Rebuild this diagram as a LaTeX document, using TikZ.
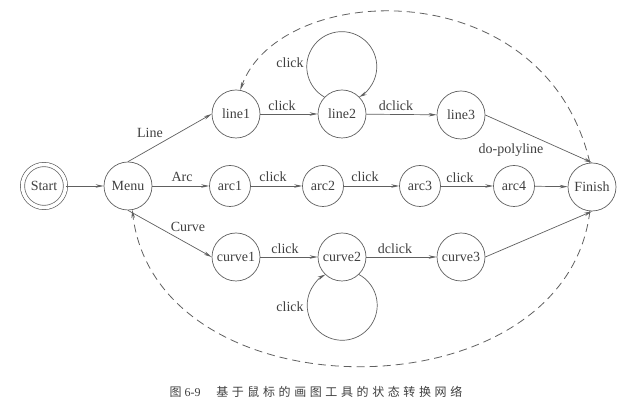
\documentclass[tikz,border=0pt]{standalone}
\usepackage{fontspec}
\setmainfont{Liberation Serif}
\newfontfamily\cjk{Noto Sans CJK SC}
\usetikzlibrary{arrows.meta}
\definecolor{ln}{HTML}{606060}
\definecolor{tx}{HTML}{404040}
\begin{document}
\begin{tikzpicture}[x=1pt,y=1pt,
  every node/.style={text=tx,font=\fontsize{14}{16}\selectfont},
  st/.style={circle,draw=ln,line width=0.7pt,inner sep=1pt,minimum size=48pt},
  sts/.style={st,minimum size=41pt},
  tr/.style={draw=ln,line width=0.7pt,-{Stealth[length=8pt,width=3.5pt]}},
  bk/.style={tr,dash pattern=on 8pt off 5pt,line width=0.8pt},
  lbl/.style={inner sep=1pt}]
\useasboundingbox (0,0) rectangle (638,407);
\fill[white] (0,0) rectangle (638,407);
% states
\node[st,double,double distance=3.5pt,minimum size=43pt] (start) at (44,221) {Start};
\node[st] (menu) at (128,221) {Menu};
\node[st] (line1) at (236,293) {line1};
\node[st] (line2) at (342,293) {line2};
\node[st] (line3) at (461,292) {line3};
\node[sts] (arc1) at (230,221) {arc1};
\node[sts] (arc2) at (323,221) {arc2};
\node[sts] (arc3) at (420,221) {arc3};
\node[sts] (arc4) at (514,221) {arc4};
\node[st] (finish) at (592,220) {Finish};
\node[st] (curve1) at (236,150) {curve1};
\node[st] (curve2) at (342,150) {curve2};
\node[st] (curve3) at (461,150) {curve3};
% transitions
\draw[tr] (start) -- (menu);
\draw[tr] (menu.north) -- (line1.west);
\draw[tr] (menu) -- (arc1);
\draw[tr] (menu.south) -- (curve1.west);
\draw[tr] (line1) -- (line2);
\draw[tr] (line2) -- (line3);
\draw[tr] (line3.east) -- (finish.north);
\draw[tr] (arc1) -- (arc2);
\draw[tr] (arc2) -- (arc3);
\draw[tr] (arc3) -- (arc4);
\draw[tr] (arc4) -- (finish);
\draw[tr] (curve1) -- (curve2);
\draw[tr] (curve2) -- (curve3);
\draw[tr] (curve3.east) -- (finish.south);
% self loops
\draw[tr] (line2.136) arc[start angle=240.4,end angle=-60.4,radius=35pt];
\draw[tr] (curve2.-46) arc[start angle=61.5,end angle=-241.5,radius=35pt];
% dashed returns
\draw[bk] (finish.95) .. controls (545,437) and (280,427) .. (line1.80);
\draw[bk] (finish.-95) .. controls (565,-11) and (157,-11) .. (menu.-80);
% labels
\node[lbl] (lLine) at (150,274) {Line};
\node[lbl] (lArc) at (182,230) {Arc};
\node[lbl] (lCurve) at (188,180) {Curve};
\node[lbl] (l12) at (282,301) {click};
\node[lbl] (l23) at (396,301) {dclick};
\node[lbl] (lloop1) at (290,344) {click};
\node[lbl] (lpoly) at (511,257) {do-polyline};
\node[lbl] (a12) at (273,230) {click};
\node[lbl] (a23) at (365,230) {click};
\node[lbl] (a34) at (460,229) {click};
\node[lbl] (c12) at (285,158) {click};
\node[lbl] (c23) at (395,158) {dclick};
\node[lbl] (lloop2) at (290,100) {click};
\node[font=\fontsize{12}{14}\selectfont] (cap) at (316,15) {{\cjk 图} 6-9\hspace{1.3em}{\cjk\addfontfeature{LetterSpace=30}基于鼠标的画图工具的状态转换网络}};
\end{tikzpicture}
\end{document}
